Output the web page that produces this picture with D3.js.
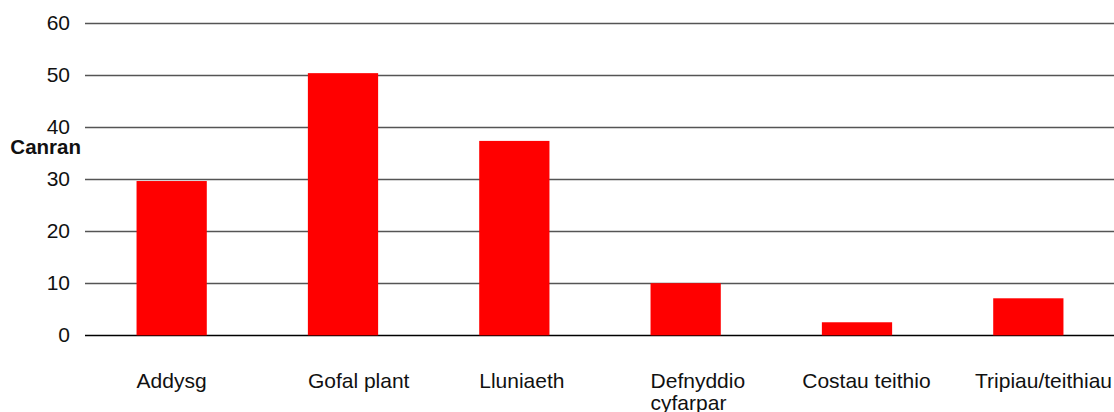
<!DOCTYPE html>
<meta charset="utf-8">
<style>
  body { margin: 0; background: #fff; }
  text { font-family: Arial, "Liberation Sans", sans-serif; }
</style>
<body>
<script src="https://cdn.jsdelivr.net/npm/d3@7/dist/d3.min.js"></script>
<script>

    var categories = ["Addysg", "Gofal plant", "Lluniaeth", "Defnyddio cyfarpar", "Costau teithio", "Tripiau/teithiau"];
    var values = [29.6, 50.3, 37.3, 10.0, 2.5, 7.1];
    var yTicks = [0, 10, 20, 30, 40, 50, 60];
    var yLabel = "Canran";

    var width = 1114,
        height = 412;

    var svg = d3.select("body").append("svg")
            .attr("width", width)
            .attr("height", height);

    var x = d3.scaleBand()
            .domain(categories)
            .range([86, 1114])
            .paddingInner(0.59)
            .paddingOuter(0.295);

    var y = d3.scaleLinear()
            .domain([0, 60])
            .range([335.3, 22.6]);

    // gridlines
    svg.append("g").selectAll("line")
        .data(yTicks)
        .enter().append("line")
        .attr("x1", 85)
        .attr("x2", width)
        .attr("y1", function(d) { return Math.round(y(d)) + 0.5; })
        .attr("y2", function(d) { return Math.round(y(d)) + 0.5; })
        .attr("stroke", function(d) { return d === 0 ? "#000" : "#555"; })
        .attr("stroke-width", 1.3);

    // y tick labels
    svg.append("g").selectAll("text")
        .data(yTicks)
        .enter().append("text")
        .attr("x", 70)
        .attr("y", function(d) { return y(d); })
        .attr("dy", "0.34em")
        .attr("text-anchor", "end")
        .attr("font-size", 21)
        .attr("fill", "#111")
        .text(function(d) { return d; });

    svg.append("text")
        .attr("x", 81)
        .attr("y", 154)
        .attr("text-anchor", "end")
        .attr("font-size", 20.5)
        .attr("font-weight", "bold")
        .attr("fill", "#111")
        .text(yLabel);

    // bars
    svg.append("g").selectAll("rect")
        .data(values)
        .enter().append("rect")
        .attr("x", function(d, i) { return x(categories[i]); })
        .attr("width", x.bandwidth())
        .attr("y", function(d) { return y(d); })
        .attr("height", function(d) { return y(0) - y(d); })
        .attr("fill", "#ff0000");

    // category labels, left aligned with the bar, pulled back if too wide
    var step = x.step();
    var labels = svg.append("g");
    categories.forEach(function(c, i) {
        var t = labels.append("text")
            .attr("font-size", 21)
            .attr("fill", "#111")
            .attr("y", 388);
        t.text(c);
        var lines = [c];
        if (t.node().getComputedTextLength() > step - 10) {
            lines = c.split(" ");
        }
        t.text(null);
        lines.forEach(function(l, k) {
            t.append("tspan").attr("dy", k === 0 ? 0 : 22).text(l);
        });
        var w = d3.max(t.selectAll("tspan").nodes(), function(n) { return n.getComputedTextLength(); });
        var end = i === categories.length - 1 ? width - 2
                : x(c) + x.bandwidth() / 2 + step / 2 - 12;
        var lx = Math.min(x(c), end - w);
        t.attr("x", lx);
        t.selectAll("tspan").attr("x", lx);
    });

</script>
